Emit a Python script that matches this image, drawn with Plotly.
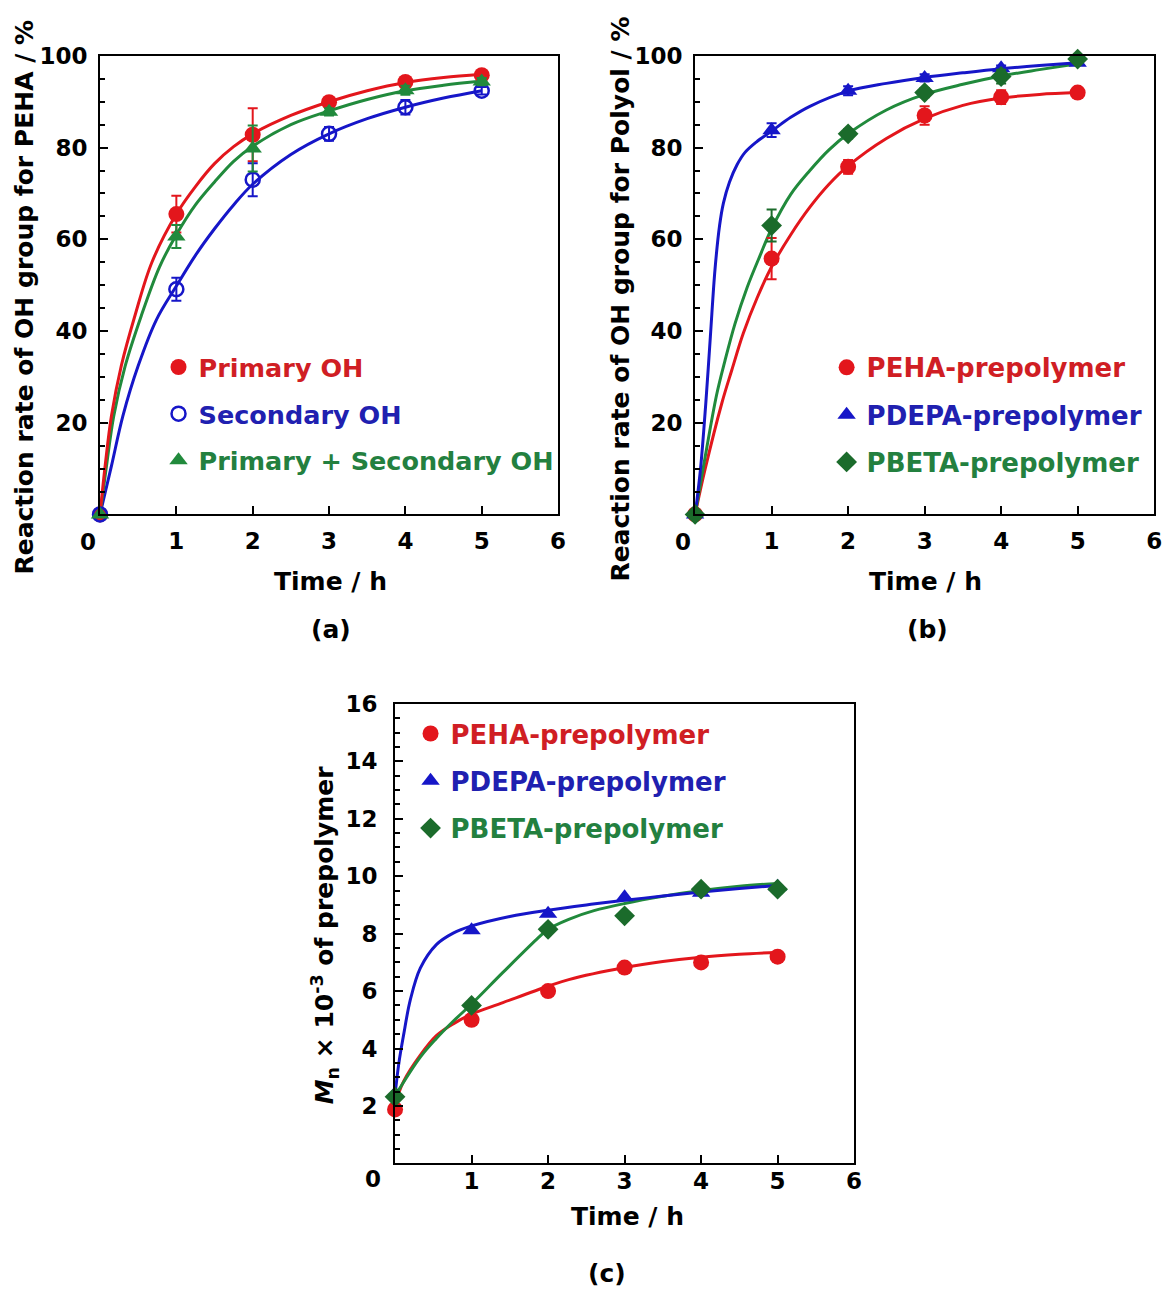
import plotly.graph_objects as go

W, H = 1166, 1293

# ---------------- Panel (a) : PEHA ----------------
time_a = [0, 1, 2, 3, 4, 5]
primary_oh = [0, 65.5, 82.8, 89.9, 94.3, 95.8]
primary_oh_err = [0, 4.0, 5.8, 0.8, 0.8, 0.5]
secondary_oh = [0, 49.1, 73.0, 83.0, 88.8, 92.4]
secondary_oh_err = [0, 2.5, 3.6, 1.5, 1.6, 0.8]
total_oh = [0, 60.6, 79.8, 87.8, 92.5, 94.4]
total_oh_err = [0, 2.5, 5.0, 0.8, 1.0, 0.8]

fit_t_primary = [0, 0.07, 0.15, 0.28, 0.46, 0.68, 1.0, 1.25, 1.5, 1.75, 2.0, 2.5, 3.0, 3.5, 4.0, 4.5, 5.0]
fit_primary = [0, 11, 21.5, 32.5, 43.5, 55, 65.5, 71.5, 76.5, 80.2, 83, 87, 90, 92.4, 94.2, 95.3, 96]
fit_t_secondary = [0, 0.15, 0.3, 0.5, 0.74, 1.0, 1.25, 1.5, 1.75, 2.0, 2.5, 3.0, 3.5, 4.0, 4.5, 5.0]
fit_secondary = [0, 10.6, 21.5, 32.4, 42.5, 49.8, 56.5, 62.3, 67.5, 72, 78.5, 83, 86.3, 88.8, 90.8, 92.4]
fit_t_total = [0, 0.085, 0.18, 0.33, 0.54, 0.78, 1.0, 1.25, 1.5, 1.75, 2.0, 2.5, 3.0, 3.5, 4.0, 4.5, 5.0]
fit_total = [0, 10.6, 21.5, 32.4, 43.3, 54, 61, 67.5, 72.5, 77, 80.3, 85, 88, 90.5, 92.4, 93.6, 94.5]

# ---------------- Panel (b) : polyols ----------------
time_b = [0, 1, 2, 3, 4, 5]
peha_b = [0, 55.8, 75.8, 87.0, 91.0, 92.0]
peha_b_err = [0, 4.5, 1.5, 2.0, 1.5, 0.5]
pdepa_b = [0, 83.8, 92.4, 95.2, 97.3, 98.5]
pdepa_b_err = [0, 1.5, 1.0, 0.8, 0.6, 0.5]
pbeta_b = [0, 63.0, 83.0, 92.0, 95.5, 99.3]
pbeta_b_err = [0, 3.5, 1.0, 1.0, 1.5, 0.5]

fit_t_peha_b = [0, 0.13, 0.35, 0.48, 0.63, 0.81, 1.0, 1.25, 1.5, 1.75, 2.0, 2.5, 3.0, 3.5, 4.0, 4.5, 5.0]
fit_peha_b = [0, 9.8, 24.3, 31.5, 39.5, 47.2, 54.0, 61, 67, 72, 76, 82, 86.3, 89.2, 90.8, 91.6, 92]
fit_t_pdepa_b = [0, 0.07, 0.14, 0.2, 0.26, 0.32, 0.37, 0.45, 0.55, 0.65, 0.8, 1.0, 1.25, 1.5, 2.0, 2.5,
                 3.0, 3.5, 4.0, 4.5, 5.0]
fit_pdepa_b = [0, 9.8, 24.3, 38.9, 53.4, 63, 67.9, 72.5, 76.3, 78.9, 81.2, 83.6, 86.6, 89, 92.3, 94.0,
               95.3, 96.3, 97.2, 97.9, 98.5]
fit_t_pbeta_b = [0, 0.11, 0.28, 0.39, 0.52, 0.68, 0.85, 1.0, 1.25, 1.5, 1.75, 2.0, 2.5, 3.0, 3.5, 4.0, 4.5, 5.0]
fit_pbeta_b = [0, 10.5, 26, 33.5, 41.5, 49.5, 56.5, 62.3, 69.8, 75, 79.5, 83, 88.2, 91.6, 93.8, 95.6, 97, 98.3]

# ---------------- Panel (c) : Mn ----------------
time_c = [0, 1, 2, 3, 4, 5]
peha_c = [1.88, 5.0, 6.0, 6.82, 7.0, 7.2]
pdepa_c = [2.42, 8.12, 8.69, 9.27, 9.42, 9.63]
pbeta_c = [2.32, 5.5, 8.15, 8.62, 9.55, 9.55]

fit_t_peha_c = [0, 0.11, 0.33, 0.54, 0.76, 1.0, 1.41, 2.0, 2.27, 3.0, 3.5, 4.0, 4.5, 5.0]
fit_peha_c = [2.05, 2.85, 3.77, 4.45, 4.86, 5.2, 5.6, 6.17, 6.4, 6.82, 7.03, 7.18, 7.28, 7.35]
fit_t_pdepa_c = [0, 0.05, 0.11, 0.2, 0.33, 0.54, 0.76, 1.0, 1.5, 2.0, 2.5, 3.0, 3.5, 4.0, 4.5, 5.0]
fit_pdepa_c = [2.4, 3.5, 4.45, 5.7, 6.8, 7.62, 8.02, 8.27, 8.6, 8.82, 9.0, 9.16, 9.31, 9.45, 9.57, 9.68]
fit_t_pbeta_c = [0, 0.33, 0.54, 0.76, 1.0, 1.41, 1.85, 2.0, 2.27, 2.6, 3.0, 3.5, 4.0, 4.5, 5.0]
fit_pbeta_c = [2.35, 3.7, 4.35, 4.95, 5.55, 6.65, 7.8, 8.15, 8.5, 8.8, 9.05, 9.3, 9.5, 9.65, 9.75]

x_ticks = [1, 2, 3, 4, 5, 6]
y_ticks_rate = [20, 40, 60, 80, 100]
y_ticks_mn = [2, 4, 6, 8, 10, 12, 14, 16]

# ---------------- styling ----------------
RED = "#e3161c"
BLUE = "#1616c8"
GREEN = "#218a3c"
DGREEN = "#1b6b2b"
RED_T = "#d01e24"
BLUE_T = "#2020b0"
GREEN_T = "#23803f"
FONT = "DejaVu Sans"


def px_x(p):
    return (p / 0.993) / W


def px_y(p):
    return 1 - ((p - 6) / 0.995) / H


def px_y_dom(p):
    return 1 - ((p - 10) / 0.993) / H


def col_name(text, color):
    return "<span style='color:%s'>%s</span>" % (color, text)


fig = go.Figure()


def add_fit(t, v, color, ax):
    fig.add_trace(go.Scatter(x=t, y=v, mode="lines", line=dict(color=color, width=3, shape="spline", smoothing=1.0),
                             xaxis="x" + ax, yaxis="y" + ax, showlegend=False, hoverinfo="skip", cliponaxis=False))


def add_pts(t, v, err, color, symbol, size, name, tcolor, ax, leg, grp, line_w=0, fill=None):
    err_y = None
    if err is not None:
        err_y = dict(type="data", array=err, color=color, thickness=2, width=5, visible=True)
    fig.add_trace(go.Scatter(
        x=t, y=v, mode="markers", name=col_name(name, tcolor),
        marker=dict(color=fill if fill else color, symbol=symbol, size=size,
                    line=dict(color=color, width=line_w)),
        error_y=err_y, xaxis="x" + ax, yaxis="y" + ax, legend=leg, legendgroup=grp, cliponaxis=False))


# Panel (a)
add_fit(fit_t_secondary, fit_secondary, BLUE, "")
add_fit(fit_t_total, fit_total, GREEN, "")
add_fit(fit_t_primary, fit_primary, RED, "")
add_pts(time_a, primary_oh, primary_oh_err, RED, "circle", 16, "Primary OH", RED_T, "", "legend", "a1")
add_pts(time_a, secondary_oh, secondary_oh_err, BLUE, "circle-open", 14, "Secondary OH", BLUE_T, "", "legend", "a2", line_w=2.5)
add_pts(time_a, total_oh, total_oh_err, GREEN, "triangle-up", 16, "Primary + Secondary OH", GREEN_T, "", "legend", "a3")

# Panel (b)
add_fit(fit_t_peha_b, fit_peha_b, RED, "2")
add_fit(fit_t_pbeta_b, fit_pbeta_b, GREEN, "2")
add_fit(fit_t_pdepa_b, fit_pdepa_b, BLUE, "2")
add_pts(time_b, peha_b, peha_b_err, RED, "circle", 16, "PEHA-prepolymer", RED_T, "2", "legend2", "b1")
add_pts(time_b, pdepa_b, pdepa_b_err, BLUE, "triangle-up", 16, "PDEPA-prepolymer", BLUE_T, "2", "legend2", "b2")
add_pts(time_b, pbeta_b, pbeta_b_err, DGREEN, "diamond", 16, "PBETA-prepolymer", GREEN_T, "2", "legend2", "b3")

# Panel (c)
add_fit(fit_t_peha_c, fit_peha_c, RED, "3")
add_fit(fit_t_pbeta_c, fit_pbeta_c, GREEN, "3")
add_fit(fit_t_pdepa_c, fit_pdepa_c, BLUE, "3")
add_pts(time_c, peha_c, None, RED, "circle", 16, "PEHA-prepolymer", RED_T, "3", "legend3", "c1")
add_pts(time_c, pdepa_c, None, BLUE, "triangle-up", 16, "PDEPA-prepolymer", BLUE_T, "3", "legend3", "c2")
add_pts(time_c, pbeta_c, None, DGREEN, "diamond", 16, "PBETA-prepolymer", GREEN_T, "3", "legend3", "c3")

tickfont = dict(family=FONT, size=23, color="black", weight="bold")


def xaxis(domain, anchor, standoff):
    return dict(domain=domain, anchor=anchor, range=[0, 6], tickvals=x_ticks, ticks="inside", ticklen=8,
                tickwidth=2, tickcolor="black", showline=True, linecolor="black", linewidth=2, mirror=True,
                showgrid=False, zeroline=False, tickfont=tickfont, ticklabelstandoff=standoff)


def yaxis(domain, anchor, rng, tickv, minor_dt, standoff):
    return dict(domain=domain, anchor=anchor, range=rng, tickvals=tickv, ticks="inside", ticklen=8,
                tickwidth=2, tickcolor="black", showline=True, linecolor="black", linewidth=2, mirror=True,
                showgrid=False, zeroline=False, tickfont=tickfont, ticklabelstandoff=standoff,
                minor=dict(dtick=minor_dt, tick0=0, ticks="inside", ticklen=5, tickwidth=1.5, tickcolor="black",
                           showgrid=False))


dom_ax = [px_x(100), px_x(558)]
dom_bx = [px_x(695), px_x(1154)]
dom_cx = [px_x(395), px_x(854)]
dom_aby = [px_y_dom(513), px_y_dom(53)]
dom_cy = [px_y_dom(1164), px_y_dom(703)]


def legend(xp, yp, size):
    return dict(x=px_x(xp), y=px_y(yp), xanchor="left", yanchor="middle", bgcolor="rgba(0,0,0,0)",
                font=dict(family=FONT, size=size, weight="bold"), tracegroupgap=10.5, itemsizing="trace")


ann_font = dict(family=FONT, size=25, color="black", weight="bold")
annotations = []


def ann(text, xp, yp, angle=0, size=25):
    f = dict(ann_font)
    f["size"] = size
    annotations.append(dict(text=text, x=px_x(xp), y=px_y(yp), xref="paper", yref="paper", showarrow=False,
                            textangle=angle, font=f, xanchor="center", yanchor="middle"))


ann("Reaction rate of OH group for PEHA / %", 25, 292, -90)
ann("Reaction rate of OH group for Polyol / %", 620, 294, -90)
ann("<i>M</i><sub>n</sub> × 10<sup>-3</sup> of prepolymer", 325, 933, -90)
ann("Time / h", 330, 577)
ann("Time / h", 925, 577)
ann("Time / h", 627, 1216)
ann("(a)", 331, 626)
ann("(b)", 927, 626)
ann("(c)", 607, 1273)
ann("0", 88, 538, size=23)
ann("0", 683, 538, size=23)
ann("0", 373, 1178, size=23)

fig.update_layout(
    width=W, height=H, autosize=False, margin=dict(l=0, r=0, t=0, b=0),
    paper_bgcolor="white", plot_bgcolor="white",
    xaxis=xaxis(dom_ax, "y", 5), yaxis=yaxis(dom_aby, "x", [0, 100], y_ticks_rate, 5, 6),
    xaxis2=xaxis(dom_bx, "y2", 5), yaxis2=yaxis(dom_aby, "x2", [0, 100], y_ticks_rate, 5, 6),
    xaxis3=xaxis(dom_cx, "y3", -4), yaxis3=yaxis(dom_cy, "x3", [0, 16], y_ticks_mn, 0.5, 11),
    legend=legend(158.5, 409, 25.5), legend2=legend(826.5, 410, 26), legend3=legend(410.5, 778, 26),
    annotations=annotations, showlegend=True,
)

fig.write_html("out.html")
